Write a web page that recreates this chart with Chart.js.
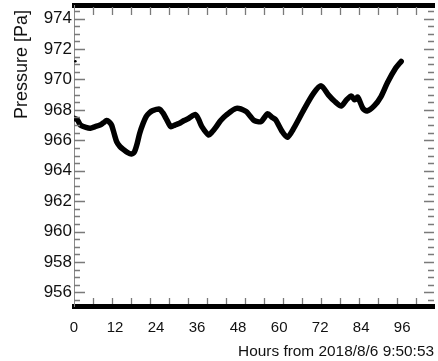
<!DOCTYPE html>
<html>
<head>
<meta charset="utf-8">
<script src="https://cdn.jsdelivr.net/npm/chart.js@4/dist/chart.umd.min.js"></script>
<style>
  html, body { margin: 0; padding: 0; background: #fff; }
  #wrap { width: 438px; height: 361px; position: relative; }
</style>
</head>
<body>
<div id="wrap"><canvas id="c"></canvas></div>
<script>
// Surface pressure record, hours since 2018/8/6 9:50:53
const hours = [0.0, 1.0, 1.9, 3.5, 4.8, 6.2, 7.6, 8.6, 9.6, 10.3, 11.0, 11.8, 12.5, 13.4, 14.4, 15.6,
  16.8, 17.7, 18.5, 19.2, 20.2, 21.1, 22.0, 23.0, 25.0, 26.0, 26.9, 28.3, 29.5, 30.7, 32.2, 33.6,
  35.5, 36.4, 37.4, 39.4, 40.4, 41.3, 42.9, 44.6, 47.5, 50.3, 51.5, 52.7, 54.7, 56.6, 58.0, 59.0,
  60.9, 62.4, 64.3, 67.2, 70.1, 72.3, 74.4, 76.3, 78.2, 79.7, 81.1, 82.1, 83.0, 84.5, 85.7, 87.8,
  89.8, 91.7, 94.1, 95.7];
const pressure = [967.45, 967.35, 967.0, 966.85, 966.8, 966.9, 967.0, 967.15, 967.3, 967.2, 967.0, 966.4,
  965.9, 965.6, 965.4, 965.2, 965.1, 965.25, 965.8, 966.45, 967.1, 967.56, 967.8, 967.95, 968.05,
  967.8, 967.45, 966.9, 967.0, 967.1, 967.3, 967.45, 967.7, 967.4, 966.9, 966.35, 966.55, 966.8,
  967.3, 967.67, 968.1, 967.9, 967.6, 967.3, 967.23, 967.74, 967.5, 967.34, 966.57, 966.2, 966.8,
  968.0, 969.1, 969.58, 968.99, 968.55, 968.26, 968.66, 968.92, 968.66, 968.84, 968.1, 967.93,
  968.26, 968.88, 969.8, 970.75, 971.19];
// isolated reading near the start
const strayHours = [0.4];
const strayPressure = [971.2];

const xTickLabels = [0, 12, 24, 36, 48, 60, 72, 84, 96];
const yTickLabels = [956, 958, 960, 962, 964, 966, 968, 970, 972, 974];

const X_MIN = 0, X_MAX = 105.3;
const Y_MIN = 955.1, Y_MAX = 974.9;
const X_MINOR_STEP = 100 / 18;
const Y_MINOR_STEP = 0.5;

const FONT = '"Liberation Sans", Arial, Helvetica, sans-serif';

// Inward tick marks on all four sides of the frame
const frameTicks = {
  id: 'frameTicks',
  afterDraw(chart) {
    const ctx = chart.ctx;
    const xs = chart.scales.x, ys = chart.scales.y;
    const { left, right, top, bottom } = chart.chartArea;
    ctx.save();
    ctx.strokeStyle = '#7a7a7a';
    ctx.lineWidth = 1.3;
    ctx.beginPath();
    const nY = Math.round((Y_MAX - Y_MIN) / Y_MINOR_STEP) + 2;
    for (let i = 0; i < nY; i++) {
      const v = Math.ceil(Y_MIN / Y_MINOR_STEP) * Y_MINOR_STEP + i * Y_MINOR_STEP;
      if (v > Y_MAX) break;
      const p = Math.round(ys.getPixelForValue(v)) + 0.5;
      const major = yTickLabels.includes(Math.round(v * 10) / 10);
      const lenL = major ? 11 : 6;
      const lenR = major ? 10 : 6;
      ctx.moveTo(left, p); ctx.lineTo(left + lenL, p);
      ctx.moveTo(right, p); ctx.lineTo(right - lenR, p);
    }
    for (let k = 1; k * X_MINOR_STEP < X_MAX; k++) {
      const p = Math.round(xs.getPixelForValue(k * X_MINOR_STEP)) + 0.5;
      ctx.moveTo(p, top + 2); ctx.lineTo(p, top + 10);
      ctx.moveTo(p, bottom - 2); ctx.lineTo(p, bottom - 8);
    }
    ctx.stroke();
    ctx.restore();
  }
};

const series = hours.map((h, i) => ({ x: h, y: pressure[i] }));
const stray = strayHours.map((h, i) => ({ x: h, y: strayPressure[i] }));

// Keep the frame flush with the canvas edges: no extra room for edge labels
function noEdgePadding(s) {
  s.paddingTop = 0; s.paddingBottom = 0; s.paddingLeft = 0; s.paddingRight = 0;
}

new Chart(document.getElementById('c'), {
  type: 'line',
  data: {
    datasets: [
      {
        data: series,
        borderColor: '#000',
        borderWidth: 5.5,
        pointRadius: 0,
        tension: 0.25,
        borderJoinStyle: 'round',
        borderCapStyle: 'round',
        fill: false
      },
      {
        data: stray,
        showLine: false,
        pointRadius: 1.3,
        pointBackgroundColor: '#000',
        pointBorderWidth: 0
      }
    ]
  },
  options: {
    responsive: true,
    maintainAspectRatio: false,
    animation: false,
    layout: { padding: 0 },
    plugins: { legend: { display: false }, tooltip: { enabled: false } },
    scales: {
      x: {
        type: 'linear',
        position: 'bottom',
        min: X_MIN, max: X_MAX,
        afterFit(s) { s.height = 55; noEdgePadding(s); },
        afterBuildTicks(s) { s.ticks = xTickLabels.map(v => ({ value: v })); },
        grid: { display: false, drawTicks: false },
        border: { display: true, color: '#000', width: 5 },
        ticks: {
          padding: 13,
          maxRotation: 0,
          autoSkip: false,
          color: '#111',
          font: { family: FONT, size: 15 },
          callback: v => String(v)
        },
        title: {
          display: true,
          text: 'Hours from 2018/8/6 9:50:53',
          align: 'end',
          color: '#111',
          font: { family: FONT, size: 15.4 },
          padding: { top: 0, bottom: 0 }
        }
      },
      xTop: {
        type: 'linear',
        position: 'top',
        min: X_MIN, max: X_MAX,
        afterFit(s) { s.height = 5; noEdgePadding(s); },
        grid: { display: false, drawTicks: false },
        border: { display: true, color: '#000', width: 5 },
        ticks: { display: false }
      },
      y: {
        type: 'linear',
        position: 'left',
        min: Y_MIN, max: Y_MAX,
        afterFit(s) { s.width = 74; noEdgePadding(s); },
        afterBuildTicks(s) { s.ticks = yTickLabels.map(v => ({ value: v })); },
        grid: { display: false, drawTicks: false },
        border: { display: true, color: '#8a8a8a', width: 1 },
        ticks: {
          padding: 2,
          autoSkip: false,
          color: '#111',
          font: { family: FONT, size: 17 },
          callback: v => String(v)
        },
        title: {
          display: true,
          text: 'Pressure [Pa] ',
          align: 'end',
          color: '#111',
          font: { family: FONT, size: 18 },
          padding: { top: 11, bottom: 0 }
        }
      }
    }
  },
  plugins: [frameTicks]
});
</script>
</body>
</html>
